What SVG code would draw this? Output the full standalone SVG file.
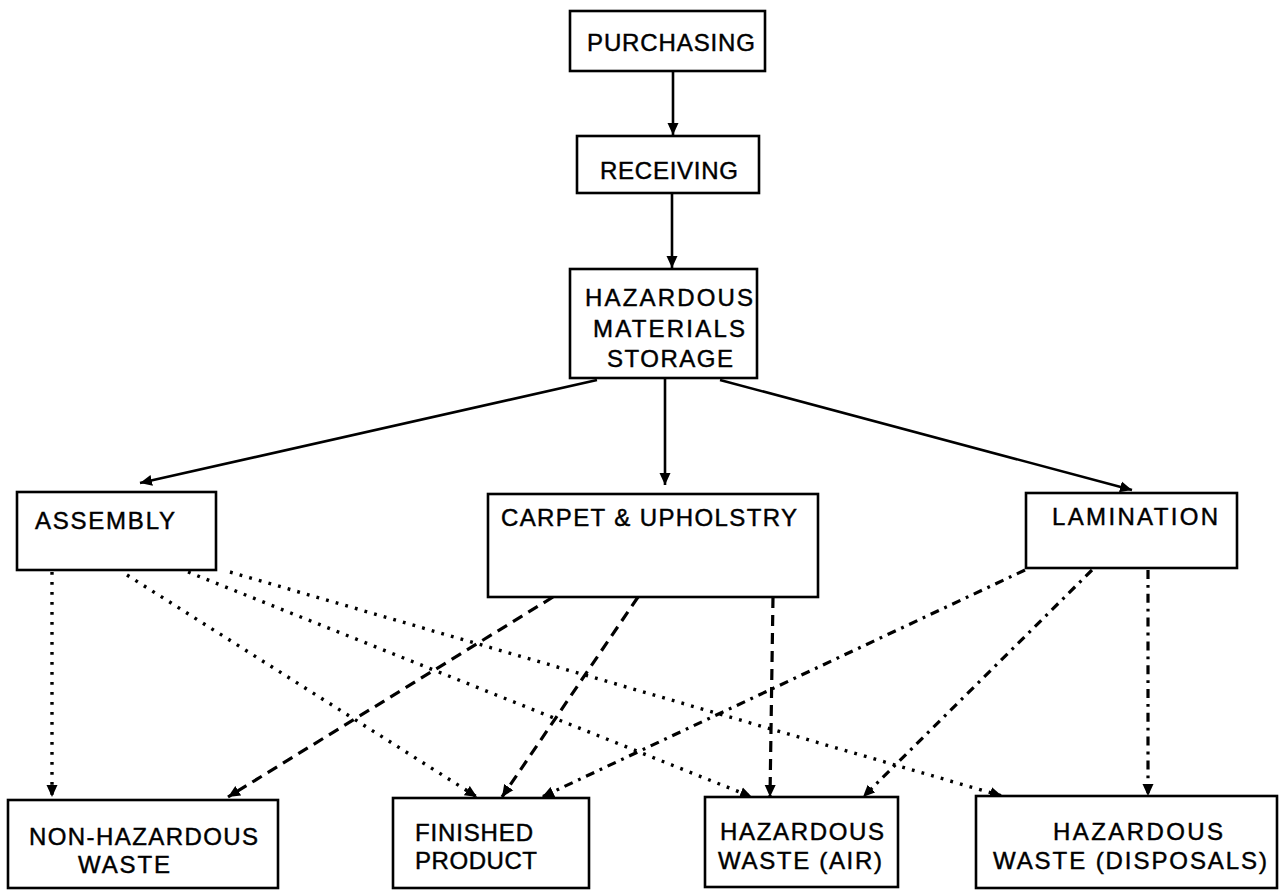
<svg xmlns="http://www.w3.org/2000/svg" width="1287" height="891" viewBox="0 0 1287 891">
<style>
.box{fill:#fff;stroke:#000;stroke-width:2.6}
.t{font-family:"Liberation Sans",Arial,sans-serif;font-size:24px;fill:#000;stroke:#000;stroke-width:0.45}
.c{fill:none;stroke:#000;stroke-width:2.6}
.solid{marker-end:url(#ah)}
.dot{stroke-width:3.4;stroke-dasharray:2.8 7.2;marker-end:url(#ah)}
.dash{stroke-width:3.2;stroke-dasharray:11 7;marker-end:url(#ah)}
.dd{stroke-width:3.2;stroke-dasharray:9 6 2.8 6;marker-end:url(#ah)}
</style>
<defs>
<marker id="ah" markerUnits="userSpaceOnUse" markerWidth="14" markerHeight="12" refX="12" refY="6" orient="auto">
<path d="M0,0.5 L12,6 L0,11.5 Z" fill="#000"/>
</marker>
</defs>
<rect width="1287" height="891" fill="#fff"/>
<g id="connectors">
<line class="c solid" x1="673" y1="71" x2="673" y2="135"/>
<line class="c solid" x1="672" y1="193" x2="672" y2="268"/>
<line class="c solid" x1="597" y1="380" x2="140" y2="483"/>
<line class="c solid" x1="665" y1="378" x2="665" y2="485"/>
<line class="c solid" x1="720" y1="380" x2="1132" y2="490"/>
<line class="c dot" x1="52" y1="572" x2="52" y2="797"/>
<line class="c dot" x1="127" y1="575" x2="477" y2="797"/>
<line class="c dot" x1="188" y1="572" x2="752" y2="797"/>
<line class="c dot" x1="230" y1="572" x2="1002" y2="796"/>
<line class="c dash" x1="553" y1="597" x2="228" y2="797"/>
<line class="c dash" x1="638" y1="597" x2="502" y2="797"/>
<line class="c dash" x1="773" y1="597" x2="770" y2="797"/>
<line class="c dd" x1="1025" y1="570" x2="542" y2="797"/>
<line class="c dd" x1="1092" y1="570" x2="863" y2="797"/>
<line class="c dd" x1="1148" y1="570" x2="1148" y2="796"/>
</g>
<g id="purchasing">
<rect class="box" x="570" y="11" width="195" height="60"/>
<text class="t" x="587" y="51" textLength="168" lengthAdjust="spacing">PURCHASING</text>
</g>
<g id="receiving">
<rect class="box" x="577" y="136" width="182" height="57"/>
<text class="t" x="600" y="179" textLength="138" lengthAdjust="spacing">RECEIVING</text>
</g>
<g id="hms">
<rect class="box" x="570" y="269" width="187" height="109"/>
<text class="t" x="585" y="306" textLength="168" lengthAdjust="spacing">HAZARDOUS</text>
<text class="t" x="593" y="337" textLength="152" lengthAdjust="spacing">MATERIALS</text>
<text class="t" x="607" y="367" textLength="126" lengthAdjust="spacing">STORAGE</text>
</g>
<g id="assembly">
<rect class="box" x="17" y="492" width="199" height="78"/>
<text class="t" x="35" y="529" textLength="140" lengthAdjust="spacing">ASSEMBLY</text>
</g>
<g id="carpet">
<rect class="box" x="488" y="494" width="330" height="103"/>
<text class="t" x="501" y="526" textLength="296" lengthAdjust="spacing">CARPET &amp; UPHOLSTRY</text>
</g>
<g id="lamination">
<rect class="box" x="1026" y="493" width="211" height="75"/>
<text class="t" x="1052" y="525" textLength="166" lengthAdjust="spacing">LAMINATION</text>
</g>
<g id="nonhaz">
<rect class="box" x="8" y="800" width="270" height="88"/>
<text class="t" x="29" y="845" textLength="229" lengthAdjust="spacing">NON-HAZARDOUS</text>
<text class="t" x="78" y="873" textLength="92" lengthAdjust="spacing">WASTE</text>
</g>
<g id="finished">
<rect class="box" x="393" y="798" width="196" height="90"/>
<text class="t" x="415" y="841" textLength="118" lengthAdjust="spacing">FINISHED</text>
<text class="t" x="415" y="869" textLength="122" lengthAdjust="spacing">PRODUCT</text>
</g>
<g id="hazair">
<rect class="box" x="705" y="797" width="193" height="90"/>
<text class="t" x="720" y="840" textLength="164" lengthAdjust="spacing">HAZARDOUS</text>
<text class="t" x="718" y="869" textLength="164" lengthAdjust="spacing">WASTE (AIR)</text>
</g>
<g id="hazdisp">
<rect class="box" x="976" y="796" width="301" height="92"/>
<text class="t" x="1053" y="840" textLength="170" lengthAdjust="spacing">HAZARDOUS</text>
<text class="t" x="993" y="869" textLength="274" lengthAdjust="spacing">WASTE (DISPOSALS)</text>
</g>
</svg>
